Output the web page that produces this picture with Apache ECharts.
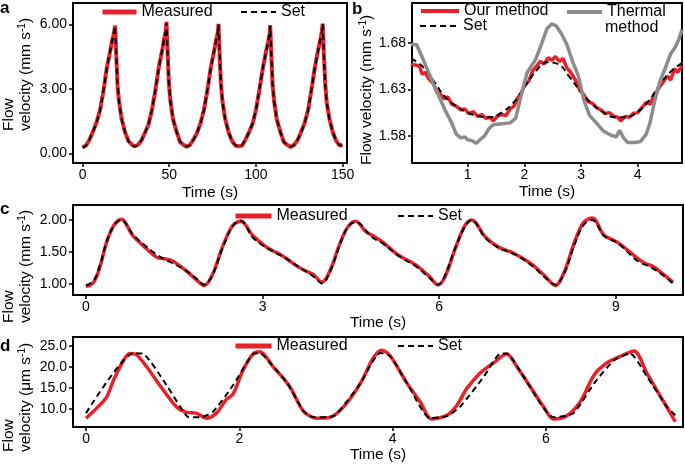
<!DOCTYPE html>
<html>
<head>
<meta charset="utf-8">
<script src="https://cdn.jsdelivr.net/npm/echarts@6/dist/echarts.min.js"></script>
<style>html,body{margin:0;padding:0;background:#fff}#chart{width:685px;height:465px}</style>
</head>
<body>
<div id="chart"></div>
<script>
// panel a: 5 pulses, 30 s period
const aTime = [0,2,4,6,8,10,12,14,16,17,18,18.8,19.5,20.2,21,22.5,24.5,26.5,28.5,
  30,32,34,36,38,40,42,44,46,47,48,48.4,49.1,49.8,50.7,52.2,54.2,56.2,58.2,
  60,62,64,66,68,70,72,74,76,77,78,78.4,79.1,79.8,80.7,82.2,84.2,86.2,88.2,
  90,92,94,96,98,100,102,104,106,107,108,108.2,108.9,109.6,110.5,112,114,116,118,
  120,122,124,126,128,130,132,134,136,137,138,138.5,139.2,139.9,140.8,142.3,144.3,146.3,148.3,150];
const aMeasured = [0.28,0.37,0.63,1.02,1.42,1.98,2.88,3.98,4.78,5.22,5.55,5.95,4.45,3.15,2.45,1.62,0.98,0.57,0.40,
  0.33,0.40,0.60,0.97,1.33,2.02,2.93,4.03,4.83,5.32,5.68,6.12,4.62,3.25,2.42,1.58,1.02,0.53,0.40,
  0.30,0.40,0.65,0.95,1.40,2.02,2.93,4.02,4.82,5.27,5.62,6.03,4.50,3.22,2.42,1.62,0.98,0.57,0.36,
  0.33,0.36,0.65,0.99,1.36,2.02,2.97,3.98,4.82,5.18,5.62,5.96,4.52,3.18,2.42,1.58,1.02,0.53,0.40,
  0.29,0.40,0.61,0.99,1.40,1.98,2.97,4.02,4.87,5.23,5.67,6.04,4.52,3.28,2.38,1.62,0.98,0.57,0.36,0.40];
const aSet = [0.25,0.35,0.65,1.00,1.40,1.95,2.90,3.95,4.80,5.20,5.60,5.92,4.50,3.20,2.40,1.60,1.00,0.55,0.38,
  0.31,0.38,0.62,0.95,1.35,2.00,2.95,4.00,4.85,5.30,5.70,6.08,4.60,3.30,2.40,1.60,1.00,0.55,0.38,
  0.31,0.38,0.63,0.97,1.38,2.00,2.95,4.00,4.85,5.25,5.65,6.00,4.55,3.25,2.40,1.60,1.00,0.55,0.38,
  0.31,0.38,0.63,0.97,1.38,2.00,2.95,4.00,4.80,5.20,5.60,5.95,4.50,3.20,2.40,1.60,1.00,0.55,0.38,
  0.31,0.38,0.63,0.97,1.38,2.00,2.95,4.00,4.85,5.25,5.65,6.02,4.55,3.25,2.40,1.60,1.00,0.55,0.38,0.36];

// panel b
const bOurTime = [0,0.08,0.15,0.2,0.25,0.32,0.4,0.45,0.52,0.58,0.65,0.72,0.8,0.88,0.95,1.02,1.1,1.18,1.25,1.32,
  1.4,1.45,1.52,1.6,1.68,1.75,1.82,1.88,1.95,2,2.08,2.15,2.22,2.28,2.35,2.42,2.48,2.55,2.62,2.68,
  2.75,2.82,2.9,2.97,3.05,3.12,3.2,3.28,3.35,3.42,3.5,3.58,3.65,3.7,3.78,3.85,3.92,4,4.08,4.15,
  4.22,4.3,4.38,4.45,4.52,4.58,4.65,4.7,4.78];
const bOur = [1.657,1.656,1.655,1.646,1.648,1.641,1.636,1.628,1.625,1.620,1.622,1.614,1.612,1.608,1.609,1.604,1.606,1.601,1.603,1.599,
  1.600,1.596,1.601,1.603,1.602,1.609,1.612,1.620,1.626,1.634,1.639,1.650,1.655,1.660,1.657,1.664,1.661,1.665,1.660,1.663,
  1.653,1.648,1.640,1.630,1.624,1.617,1.615,1.610,1.608,1.604,1.605,1.601,1.600,1.596,1.601,1.600,1.604,1.605,1.611,1.616,
  1.614,1.625,1.632,1.638,1.644,1.640,1.652,1.648,1.655];
const bSetTime = [0,0.2,0.4,0.6,0.8,1,1.2,1.4,1.6,1.8,2,2.2,2.4,2.6,2.8,3,3.2,3.4,3.6,3.8,4,4.2,4.4,4.6,4.78];
const bSet = [1.663,1.655,1.639,1.622,1.612,1.605,1.601,1.600,1.605,1.615,1.632,1.649,1.659,1.657,1.643,1.627,1.614,1.605,1.600,1.600,1.606,1.618,1.636,1.650,1.658];
const bThermalTime = [0,0.1,0.18,0.3,0.42,0.6,0.72,0.8,0.88,0.95,1,1.08,1.15,1.22,1.3,1.38,1.45,1.6,1.75,1.85,
  1.95,2.05,2.2,2.3,2.4,2.48,2.56,2.65,2.75,2.85,2.95,3.05,3.15,3.27,3.4,3.52,3.62,3.68,3.75,3.82,
  3.95,4.05,4.15,4.22,4.3,4.4,4.5,4.58,4.66,4.72,4.78];
const bThermal = [1.678,1.678,1.667,1.650,1.633,1.608,1.594,1.582,1.578,1.579,1.576,1.575,1.572,1.576,1.580,1.588,1.592,1.593,1.594,1.599,
  1.625,1.648,1.662,1.678,1.695,1.700,1.698,1.690,1.678,1.660,1.645,1.618,1.602,1.594,1.585,1.581,1.579,1.586,1.578,1.573,
  1.573,1.574,1.582,1.595,1.618,1.640,1.655,1.668,1.675,1.683,1.694];

// panel c
const cMeasTime = [0,0.13,0.24,0.35,0.47,0.6,0.8,1.03,1.2,1.3,1.45,1.6,1.75,1.87,2.01,
  2.15,2.32,2.49,2.63,2.83,3.06,3.34,3.55,3.7,3.86,4.01,
  4.15,4.3,4.44,4.58,4.75,4.86,5.03,5.31,5.6,5.83,5.98,
  6.1,6.27,6.44,6.55,6.78,7,7.29,7.57,7.8,7.97,
  8.12,8.3,8.45,8.6,8.8,9.03,9.37,9.5,9.62,9.77,9.97];
const cMeasured = [0.96,1.03,1.28,1.65,1.91,2.01,1.75,1.55,1.42,1.40,1.37,1.28,1.17,1.07,0.98,
  1.15,1.58,1.91,1.98,1.76,1.58,1.44,1.30,1.22,1.15,1.03,
  1.22,1.60,1.88,1.98,1.82,1.76,1.66,1.45,1.30,1.12,0.99,
  1.12,1.55,1.92,2.00,1.74,1.58,1.47,1.31,1.12,0.98,
  1.18,1.66,1.96,2.03,1.76,1.65,1.40,1.32,1.28,1.18,1.03];
const cSetTime = [0,0.13,0.24,0.35,0.47,0.6,0.8,1.03,1.2,1.37,1.53,1.7,1.87,2.01,
  2.15,2.32,2.49,2.63,2.83,3.06,3.34,3.63,3.86,4.01,
  4.15,4.3,4.44,4.58,4.86,5.03,5.31,5.6,5.83,5.98,
  6.1,6.27,6.44,6.55,6.78,7,7.29,7.57,7.8,7.97,
  8.12,8.3,8.45,8.6,8.8,9.03,9.37,9.6,9.77,9.97];
const cSet = [0.98,1.05,1.30,1.66,1.90,2.00,1.77,1.58,1.46,1.37,1.30,1.21,1.09,0.99,
  1.14,1.56,1.90,1.99,1.73,1.57,1.43,1.26,1.12,1.01,
  1.20,1.58,1.88,1.97,1.73,1.64,1.44,1.28,1.10,0.99,
  1.14,1.56,1.90,2.00,1.72,1.57,1.46,1.29,1.10,0.99,
  1.16,1.62,1.92,2.00,1.75,1.64,1.36,1.26,1.16,1.01];

// panel d
const dMeasTime = [0,0.14,0.27,0.36,0.49,0.57,0.66,0.79,0.96,1.18,1.31,1.44,1.57,1.7,1.83,1.92,2.05,2.18,2.27,2.44,
  2.66,2.84,3.01,3.18,3.36,3.58,3.75,3.86,3.97,4.19,4.36,4.51,4.71,4.84,4.97,5.14,5.32,5.49,5.62,5.84,
  5.97,6.1,6.27,6.45,6.63,6.8,6.98,7.15,7.32,7.5,7.69];
const dMeasured = [7.8,10.2,12.9,16.9,21.6,23.2,22.9,20.1,15.7,10.5,9.2,9.0,7.8,9.0,12.2,13.6,19.3,23.1,23.6,20.1,
  15.3,9.4,7.8,8.0,10.5,16.1,22.2,24.0,22.6,16.1,11.7,7.6,8.5,10.9,14.9,18.5,21.0,23.1,20.1,14.1,
  10.5,7.6,8.3,11.7,18.1,21.0,22.6,23.8,18.5,12.9,7.0];
const dSetTime = [0,0.62,0.75,1.05,1.23,1.34,1.49,1.66,1.92,2.18,2.27,2.4,2.62,2.84,2.97,3.23,3.4,3.58,3.84,3.97,
  4.19,4.49,4.71,4.88,5.19,5.4,5.49,5.71,5.93,6.1,6.36,6.63,6.89,7.1,7.32,7.58,7.69];
const dSet = [9.0,23.3,23.1,15.7,10.5,8.0,8.0,9.4,15.7,23.1,23.3,21.0,16.3,9.4,8.0,8.3,11.7,16.1,23.3,22.6,
  16.1,7.8,8.3,10.5,17.7,23.1,23.2,17.7,11.3,8.0,9.0,16.1,21.6,23.2,17.7,10.5,8.5];

// ticks
const aXTicks = [0,50,100,150], aYTicks = [0,3,6];
const bXTicks = [1,2,3,4], bYTicks = [1.58,1.63,1.68];
const cXTicks = [0,3,6,9], cYTicks = [1,1.5,2];
const dXTicks = [0,2,4,6], dYTicks = [10,15,20,25];

const FONT = '"Liberation Sans", Arial, sans-serif';
const RED = '#e8202a', GRAY = '#8c8c8c';

function pairs(xs, ys) { return xs.map((x, i) => [x, ys[i]]); }

function xAx(g, min, max, ticks, gap) {
  return {
    type: 'value', gridIndex: g, min: min, max: max,
    name: 'Time (s)', nameLocation: 'middle', nameGap: gap,
    nameTextStyle: {fontSize: 15.5, color: '#000', fontFamily: FONT},
    axisLine: {show: false, onZero: false},
    axisTick: {show: true, length: 4, customValues: ticks, lineStyle: {color: '#000', width: 1.5}},
    axisLabel: {customValues: ticks, margin: 5, fontSize: 14, color: '#000', fontFamily: FONT},
    splitLine: {show: false}
  };
}
function yAx(g, min, max, ticks, dec) {
  return {
    type: 'value', gridIndex: g, min: min, max: max,
    axisLine: {show: false, onZero: false},
    axisTick: {show: true, length: 4, customValues: ticks, lineStyle: {color: '#000', width: 1.5}},
    axisLabel: {customValues: ticks, margin: 6, fontSize: 14, color: '#000', fontFamily: FONT,
      formatter: v => v.toFixed(dec)},
    splitLine: {show: false}
  };
}
function line(name, g, data, color, width, dash, smooth) {
  return {
    name: name, type: 'line', xAxisIndex: g, yAxisIndex: g, data: data,
    symbol: 'none', smooth: smooth, silent: true,
    lineStyle: {color: color, width: width, type: dash ? [6, 4] : 'solid'},
    itemStyle: {color: color}
  };
}
function leg(name, left, top, w, lw) {
  return {
    data: [name], left: left, top: top, padding: 0, itemWidth: w, itemHeight: 14,
    selectedMode: false,
    itemStyle: {opacity: 0},
    lineStyle: {width: lw},
    formatter: n => n === 'Thermal method' ? 'Thermal' : n,
    textStyle: {fontSize: 16, color: '#000', fontFamily: FONT}
  };
}
function grid(left, top, width, height) {
  return {left: left, top: top, width: width, height: height, show: true,
    borderColor: '#000', borderWidth: 2, backgroundColor: 'transparent'};
}
function yTitle(x, y, unit) {
  return {
    type: 'text', x: x, y: y, rotation: Math.PI / 2,
    style: {
      text: '{n|' + unit + '}{s|-1}{n|)}',
      textAlign: 'left', textVerticalAlign: 'middle',
      rich: {
        n: {fontSize: 15.5, fontFamily: FONT, fill: '#000', lineHeight: 18},
        s: {fontSize: 10, fontFamily: FONT, fill: '#000', verticalAlign: 'top'}
      }
    }
  };
}
function txt(x, y, s, size, bold) {
  return {type: 'text', x: x, y: y,
    style: {text: s, fontSize: size, fontWeight: bold ? 'bold' : 'normal', fontFamily: FONT,
      fill: '#000', textAlign: 'left', textVerticalAlign: bold ? 'top' : 'middle'}};
}
function flow(x, y) {
  return {type: 'text', x: x, y: y, rotation: Math.PI / 2,
    style: {text: 'Flow', fontSize: 15.5, fontFamily: FONT, fill: '#000',
      textAlign: 'left', textVerticalAlign: 'middle'}};
}

const chart = echarts.init(document.getElementById('chart'), null, {renderer: 'canvas'});
chart.setOption({
  animation: false,
  backgroundColor: '#fff',
  grid: [grid(73, 3, 274, 160), grid(412, 3, 270, 160), grid(73, 205, 610, 90), grid(73, 337, 610, 90)],
  xAxis: [xAx(0, -5.5, 152.5, aXTicks, 22), xAx(1, 0.02, 4.78, bXTicks, 21), xAx(2, -0.22, 10.14, cXTicks, 18), xAx(3, -0.17, 7.79, dXTicks, 20)],
  yAxis: [yAx(0, -0.45, 7.0, aYTicks, 2), yAx(1, 1.551, 1.7225, bYTicks, 2), yAx(2, 0.83, 2.233, cYTicks, 2), yAx(3, 5.7, 27.14, dYTicks, 1)],
  legend: [
    leg('Measured', 100, 4, 34, 5), leg('Set', 240, 4, 35, 2),
    leg('Our method', 419, 3, 38, 4), leg('Set', 419, 18, 38, 2), leg('Thermal method', 565, 4, 35, 4),
    leg('Measured', 233, 208, 36, 5), leg('Set', 397, 208, 35, 2),
    leg('Measured', 233, 338, 36, 5), leg('Set', 397, 338, 35, 2)
  ],
  series: [
    line('Measured', 0, pairs(aTime, aMeasured), RED, 4, false, false),
    line('Set', 0, pairs(aTime, aSet), '#000', 2, true, false),
    line('Our method', 1, pairs(bOurTime, bOur), RED, 3.5, false, false),
    line('Set', 1, pairs(bSetTime, bSet), '#000', 2, true, 0.4),
    line('Thermal method', 1, pairs(bThermalTime, bThermal), GRAY, 3.5, false, false),
    line('Measured', 2, pairs(cMeasTime, cMeasured), RED, 3.5, false, 0.35),
    line('Set', 2, pairs(cSetTime, cSet), '#000', 2, true, 0.35),
    line('Measured', 3, pairs(dMeasTime, dMeasured), RED, 3.5, false, 0.3),
    line('Set', 3, pairs(dSetTime, dSet), '#000', 2, true, 0.2)
  ],
  graphic: [
    txt(0, 0, 'a', 17, true), txt(352, 1, 'b', 17, true), txt(0, 201, 'c', 17, true), txt(0, 338, 'd', 17, true),
    flow(9, 131), yTitle(26, 131, 'velocity (mm s'),
    yTitle(367, 165, 'Flow velocity (mm s'),
    flow(9, 323), yTitle(26, 323, 'velocity (mm s'),
    flow(9, 452), yTitle(26, 452, 'velocity (\u03bcm s'),
    txt(605, 28, 'method', 16, false)
  ]
});
</script>
</body>
</html>
